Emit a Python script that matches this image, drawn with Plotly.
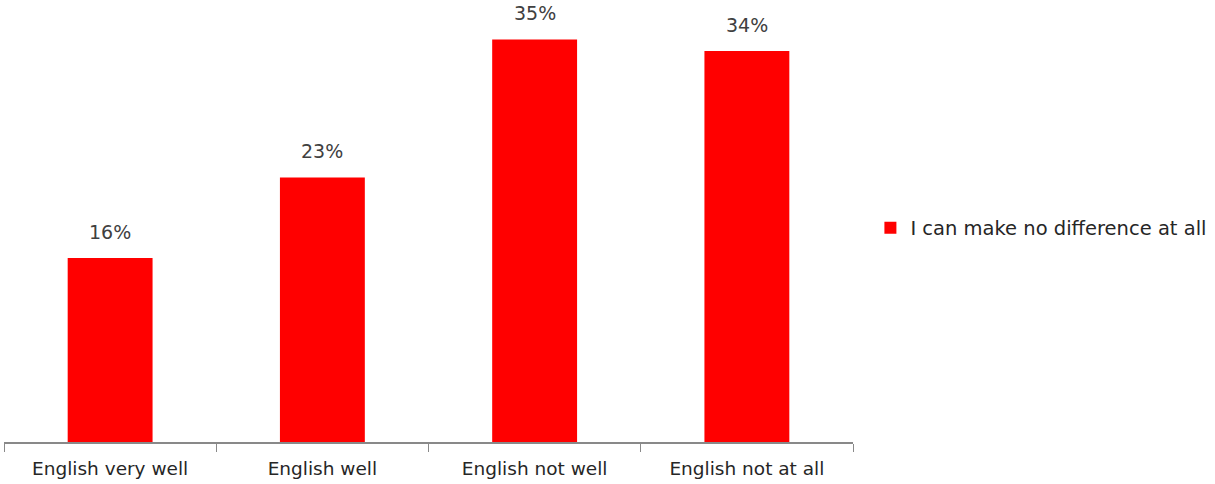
import plotly.graph_objects as go

categories = ["English very well", "English well", "English not well", "English not at all"]
values = [16, 23, 35, 34]
labels = ["16%", "23%", "35%", "34%"]
series_name = "I can make no difference at all"

FONT = "DejaVu Sans, Noto Sans, sans-serif"

fig = go.Figure()
fig.add_trace(go.Bar(
    x=categories, y=values, name=series_name,
    marker=dict(color="#FF0000", line=dict(width=0)),
    width=0.4, showlegend=True,
))
for c, v, t in zip(categories, values, labels):
    fig.add_annotation(x=c, y=v, text=t, showarrow=False, yanchor="bottom",
                       yshift=13, font=dict(family=FONT, size=19, color="#404040"))
fig.update_layout(
    width=1215, height=484,
    margin=dict(l=4, r=362, t=0, b=42),
    plot_bgcolor="white", paper_bgcolor="white",
    font=dict(family=FONT, size=18, color="#262626"),
    xaxis=dict(showline=True, linecolor="#898989", linewidth=1.5,
               ticks="outside", tickson="boundaries", ticklen=8, tickcolor="#898989",
               tickfont=dict(family=FONT, size=18.5, color="#262626"), showgrid=False,
               automargin=False, ticklabelstandoff=9),
    yaxis=dict(range=[0, 38.43], visible=False, showgrid=False, automargin=False),
    legend=dict(x=1.0205, y=0.484, xanchor="left", yanchor="middle", itemwidth=30,
                font=dict(family=FONT, size=19.5, color="#262626")),
)
fig.write_html("out.html", config={"displayModeBar": False},
               post_script="document.body.style.margin='0';document.body.style.padding='0';")
